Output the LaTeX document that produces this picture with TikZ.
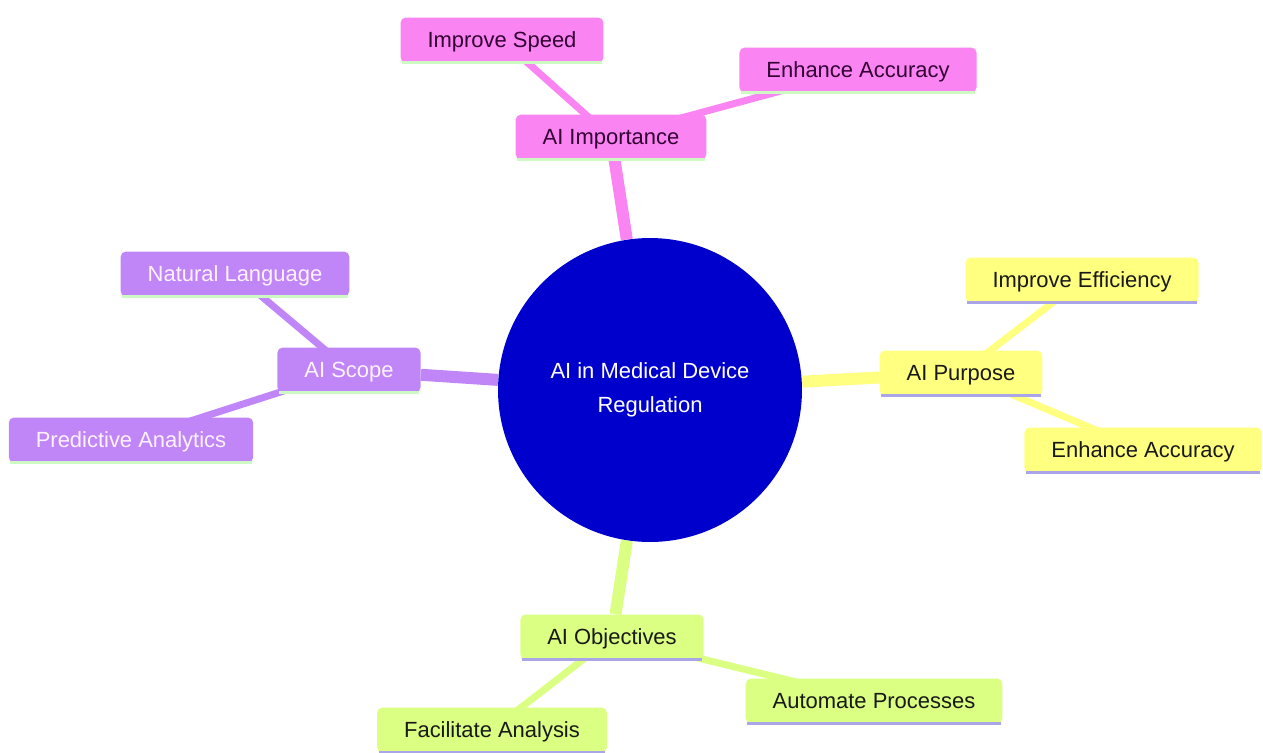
\documentclass[tikz,border=0pt]{standalone}
\usepackage{fontspec}
\setmainfont{Liberation Sans}
\usetikzlibrary{backgrounds}

\definecolor{hubblue}{RGB}{0,0,205}
\definecolor{pinkfill}{RGB}{250,132,242}
\definecolor{purplefill}{RGB}{192,134,247}
\definecolor{yellowfill}{RGB}{255,255,128}
\definecolor{greenfill}{RGB}{218,255,130}
\definecolor{pinktext}{RGB}{50,0,50}
\definecolor{purpletext}{RGB}{255,242,255}
\definecolor{darktext}{RGB}{25,25,25}
\definecolor{mintline}{RGB}{205,250,195}
\definecolor{lavenderline}{RGB}{170,165,232}

\tikzset{
    box/.style={rectangle, rounded corners=3pt, inner xsep=0.54cm, inner ysep=0pt,
        minimum height=0.9cm, text height=0.4cm, text depth=0.09cm,
        font=\fontsize{12.5}{15}\selectfont},
    pinkbox/.style={box, fill=pinkfill, text=pinktext},
    purplebox/.style={box, fill=purplefill, text=purpletext},
    yellowbox/.style={box, fill=yellowfill, text=darktext},
    greenbox/.style={box, fill=greenfill, text=darktext},
    trunk/.style={line width=0.24cm},
    twig/.style={line width=0.14cm},
    underline/.style={line width=0.06cm}
}

\begin{document}
\begin{tikzpicture}[x=0.02cm, y=-0.02cm]
    \useasboundingbox (0,0) rectangle (1263,753);

    % Draw the central circle
    \node[circle, fill=hubblue, text=white, minimum size=6.08cm, inner sep=0pt,
        align=center, font=\fontsize{12.5}{19.3}\selectfont] (hub) at (650,390)
        {AI in Medical Device\\Regulation};

    % Draw the four branches and their leaves
    \node[pinkbox] (importance) at (611,137) {AI Importance};
    \node[pinkbox] (speed) at (502,40) {Improve Speed};
    \node[pinkbox] (accuracyA) at (858,70) {Enhance Accuracy};

    \node[purplebox] (scope) at (349,370) {AI Scope};
    \node[purplebox] (language) at (235,274) {Natural Language};
    \node[purplebox] (analytics) at (131,440) {Predictive Analytics};

    \node[yellowbox] (purpose) at (961,373) {AI Purpose};
    \node[yellowbox] (efficiency) at (1082,280) {Improve Efficiency};
    \node[yellowbox] (accuracyB) at (1143,450) {Enhance Accuracy};

    \node[greenbox] (objectives) at (612,637) {AI Objectives};
    \node[greenbox] (automate) at (874,701) {Automate Processes};
    \node[greenbox] (facilitate) at (492,730) {Facilitate Analysis};

    % Draw the connectors behind the nodes
    \begin{scope}[on background layer]
        \draw[trunk, pinkfill] (hub) -- (importance);
        \draw[trunk, purplefill] (hub) -- (scope);
        \draw[trunk, yellowfill] (hub) -- (purpose);
        \draw[trunk, greenfill] (hub) -- (objectives);

        \draw[twig, pinkfill] (importance.center) -- (speed.center);
        \draw[twig, pinkfill] (importance.center) -- (accuracyA.center);
        \draw[twig, purplefill] (scope.center) -- (language.center);
        \draw[twig, purplefill] (scope.center) -- (analytics.center);
        \draw[twig, yellowfill] (purpose.center) -- (efficiency.center);
        \draw[twig, yellowfill] (purpose.center) -- (accuracyB.center);
        \draw[twig, greenfill] (objectives.center) -- (automate.center);
        \draw[twig, greenfill] (objectives.center) -- (facilitate.center);
    \end{scope}

    % Draw the lines under the boxes
    \foreach \n in {importance, speed, accuracyA, scope, language, analytics}
        \draw[underline, mintline] ([xshift=1pt]\n.south west) -- ([xshift=-1pt]\n.south east);
    \foreach \n in {purpose, efficiency, accuracyB, objectives, automate, facilitate}
        \draw[underline, lavenderline] ([xshift=1pt]\n.south west) -- ([xshift=-1pt]\n.south east);
\end{tikzpicture}
\end{document}
